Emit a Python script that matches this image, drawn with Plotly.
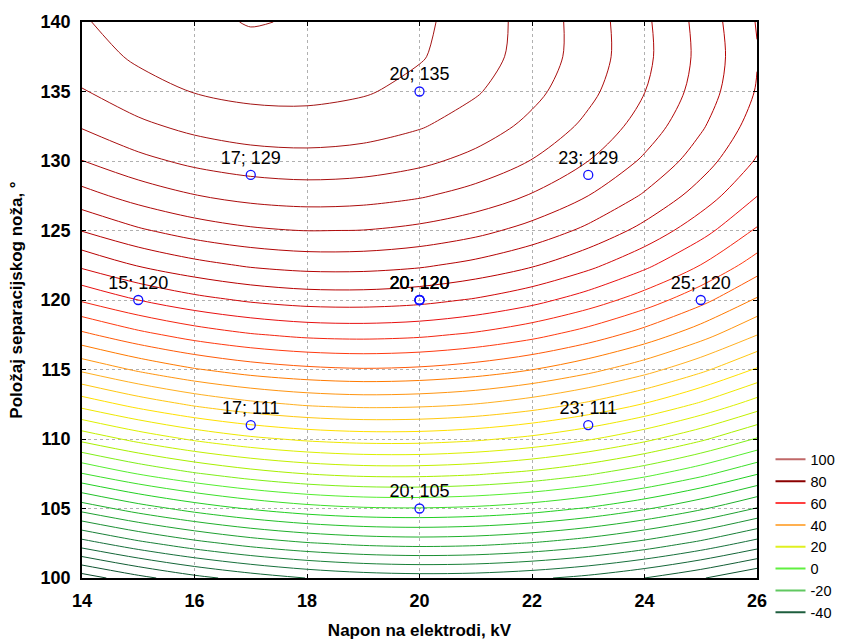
import plotly.graph_objects as go

# ---- data ----
x_grid = [14, 15, 16, 17, 18, 19, 20, 21, 22, 23, 24, 25, 26]
y_grid = [100, 102.5, 105, 107.5, 110, 112.5, 115, 117.5, 120, 122.5, 125, 127.5, 130, 132.5, 135, 137.5, 140]

z_y100 = [-67.6, -61.6, -56.6, -52.8, -49.9, -48.1, -47.4, -47.7, -49.1, -51.5, -55.0, -59.5, -65.0]
z_y102_5 = [-47.2, -41.4, -36.7, -33.0, -30.4, -28.8, -28.2, -28.7, -30.3, -32.9, -36.6, -41.3, -47.0]
z_y105 = [-28.1, -22.5, -18.0, -14.5, -12.0, -10.6, -10.3, -11.0, -12.7, -15.5, -19.4, -24.3, -30.3]
z_y107_5 = [-10.2, -4.8, -0.5, 2.8, 5.1, 6.3, 6.4, 5.5, 3.6, 0.6, -3.5, -8.6, -14.7]
z_y110 = [6.4, 11.6, 15.8, 18.9, 20.9, 21.9, 21.9, 20.8, 18.7, 15.5, 11.2, 5.9, -0.4]
z_y112_5 = [21.8, 26.8, 30.8, 33.7, 35.6, 36.4, 36.1, 34.9, 32.5, 29.1, 24.7, 19.2, 12.7]
z_y115 = [36.0, 40.8, 44.6, 47.3, 48.9, 49.6, 49.1, 47.6, 45.1, 41.5, 36.9, 31.2, 24.5]
z_y117_5 = [48.9, 53.5, 57.1, 59.6, 61.1, 61.5, 60.9, 59.2, 56.5, 52.7, 47.9, 42.0, 35.1]
z_y120 = [60.6, 65.0, 68.4, 70.7, 72.0, 72.2, 71.4, 69.5, 66.6, 62.6, 57.6, 51.6, 44.4]
z_y122_5 = [71.0, 75.3, 78.4, 80.6, 81.7, 81.7, 80.7, 78.6, 75.5, 71.3, 66.1, 59.9, 52.6]
z_y125 = [80.2, 84.3, 87.3, 89.2, 90.1, 89.9, 88.7, 86.5, 83.2, 78.8, 73.4, 66.9, 59.4]
z_y127_5 = [88.2, 92.0, 94.8, 96.6, 97.3, 96.9, 95.5, 93.1, 89.6, 85.0, 79.4, 72.8, 65.1]
z_y130 = [94.9, 98.6, 101.2, 102.7, 103.2, 102.7, 101.1, 98.5, 94.8, 90.0, 84.2, 77.4, 69.5]
z_y132_5 = [100.4, 103.9, 106.3, 107.7, 108.0, 107.2, 105.4, 102.6, 98.7, 93.8, 87.8, 80.7, 72.6]
z_y135 = [104.7, 108.0, 110.2, 111.3, 111.4, 110.5, 108.5, 105.5, 101.4, 96.3, 90.1, 82.9, 74.6]
z_y137_5 = [107.7, 110.8, 112.8, 113.8, 113.7, 112.6, 110.4, 107.2, 102.9, 97.6, 91.2, 83.7, 75.3]
z_y140 = [109.5, 112.4, 114.2, 115.2, 114.7, 113.4, 111.0, 107.6, 103.1, 97.6, 91.0, 83.4, 74.7]

z_rows = [z_y100, z_y102_5, z_y105, z_y107_5, z_y110, z_y112_5, z_y115, z_y117_5,
          z_y120, z_y122_5, z_y125, z_y127_5, z_y130, z_y132_5, z_y135, z_y137_5, z_y140]

# design points (centre point replicated)
point_x = [15, 17, 17, 20, 20, 20, 20, 20, 23, 23, 25]
point_y = [120, 111, 129, 105, 120, 120, 120, 135, 111, 129, 120]

legend_levels = [100, 80, 60, 40, 20, 0, -20, -40]

# ---- styles ----
level_start, level_end, level_step = -70, 115, 5
color_stops = [(-70, "#0a4028"), (-45, "#17703c"), (-30, "#1ea030"), (-15, "#22d022"),
               (-5, "#55ee30"), (5, "#a8f000"), (15, "#dcf000"), (25, "#ffe000"),
               (35, "#ffb020"), (45, "#ff7a00"), (55, "#ff3a10"), (65, "#e81010"),
               (75, "#b80000"), (115, "#a01818")]
colorscale = [[(v - level_start) / (level_end - level_start), c] for v, c in color_stops]
legend_colors = ["#c06868", "#8b0000", "#ff4040", "#ffb050", "#e0f020", "#60f040", "#60c860", "#1e5e3e"]

FONT = "Arial, 'Liberation Sans', sans-serif"

fig = go.Figure()
fig.add_trace(go.Contour(
    x=x_grid, y=y_grid, z=z_rows,
    contours=dict(coloring="lines", start=level_start, end=level_end, size=level_step, showlabels=False),
    line=dict(width=1, smoothing=0.9),
    colorscale=colorscale, showscale=False, showlegend=False, hoverinfo="skip",
))

labels = [f"{a}; {b}" for a, b in zip(point_x, point_y)]
fig.add_trace(go.Scatter(
    x=point_x, y=point_y, mode="markers+text", text=labels, textposition="top center",
    textfont=dict(family=FONT, size=18, color="black"),
    marker=dict(symbol="circle-open", size=9, color="#1010ff", line=dict(width=1.3, color="#1010ff")),
    showlegend=False, hoverinfo="skip", cliponaxis=False,
))

for lev, col in zip(legend_levels, legend_colors):
    fig.add_trace(go.Scatter(x=[None], y=[None], mode="lines", name=str(lev),
                             line=dict(color=col, width=2), showlegend=True))

axis_common = dict(
    showgrid=True, gridcolor="#b0b0b0", griddash="dot", gridwidth=1,
    showline=True, linecolor="black", linewidth=1.5, mirror="ticks",
    ticks="inside", ticklen=4, tickcolor="black", tickwidth=1,
    zeroline=False, automargin=False,
    tickfont=dict(family=FONT, size=18, color="black", weight="bold"),
)

fig.update_layout(
    width=846, height=641,
    margin=dict(l=82, r=89, t=22, b=63, autoexpand=False),
    paper_bgcolor="white", plot_bgcolor="white",
    font=dict(family=FONT, color="black"),
    xaxis=dict(range=[14, 26], tick0=14, dtick=2, ticklabelstandoff=6,
               title=dict(text="Napon na elektrodi, kV", standoff=14,
                          font=dict(family=FONT, size=17, color="black", weight="bold")),
               **axis_common),
    yaxis=dict(range=[100, 140], tick0=100, dtick=5, ticklabelstandoff=6,
               title=dict(text="Položaj separacijskog noža, °", standoff=14,
                          font=dict(family=FONT, size=17, color="black", weight="bold")),
               **axis_common),
    legend=dict(x=1.02, xanchor="left", y=0.242, yanchor="top",
                font=dict(family=FONT, size=14.5, color="black"),
                bgcolor="rgba(0,0,0,0)", tracegroupgap=0, itemwidth=30),
)

fig.write_html("out.html", config={"displayModeBar": False},
               post_script="document.body.style.margin='0';document.body.style.overflow='hidden';")
